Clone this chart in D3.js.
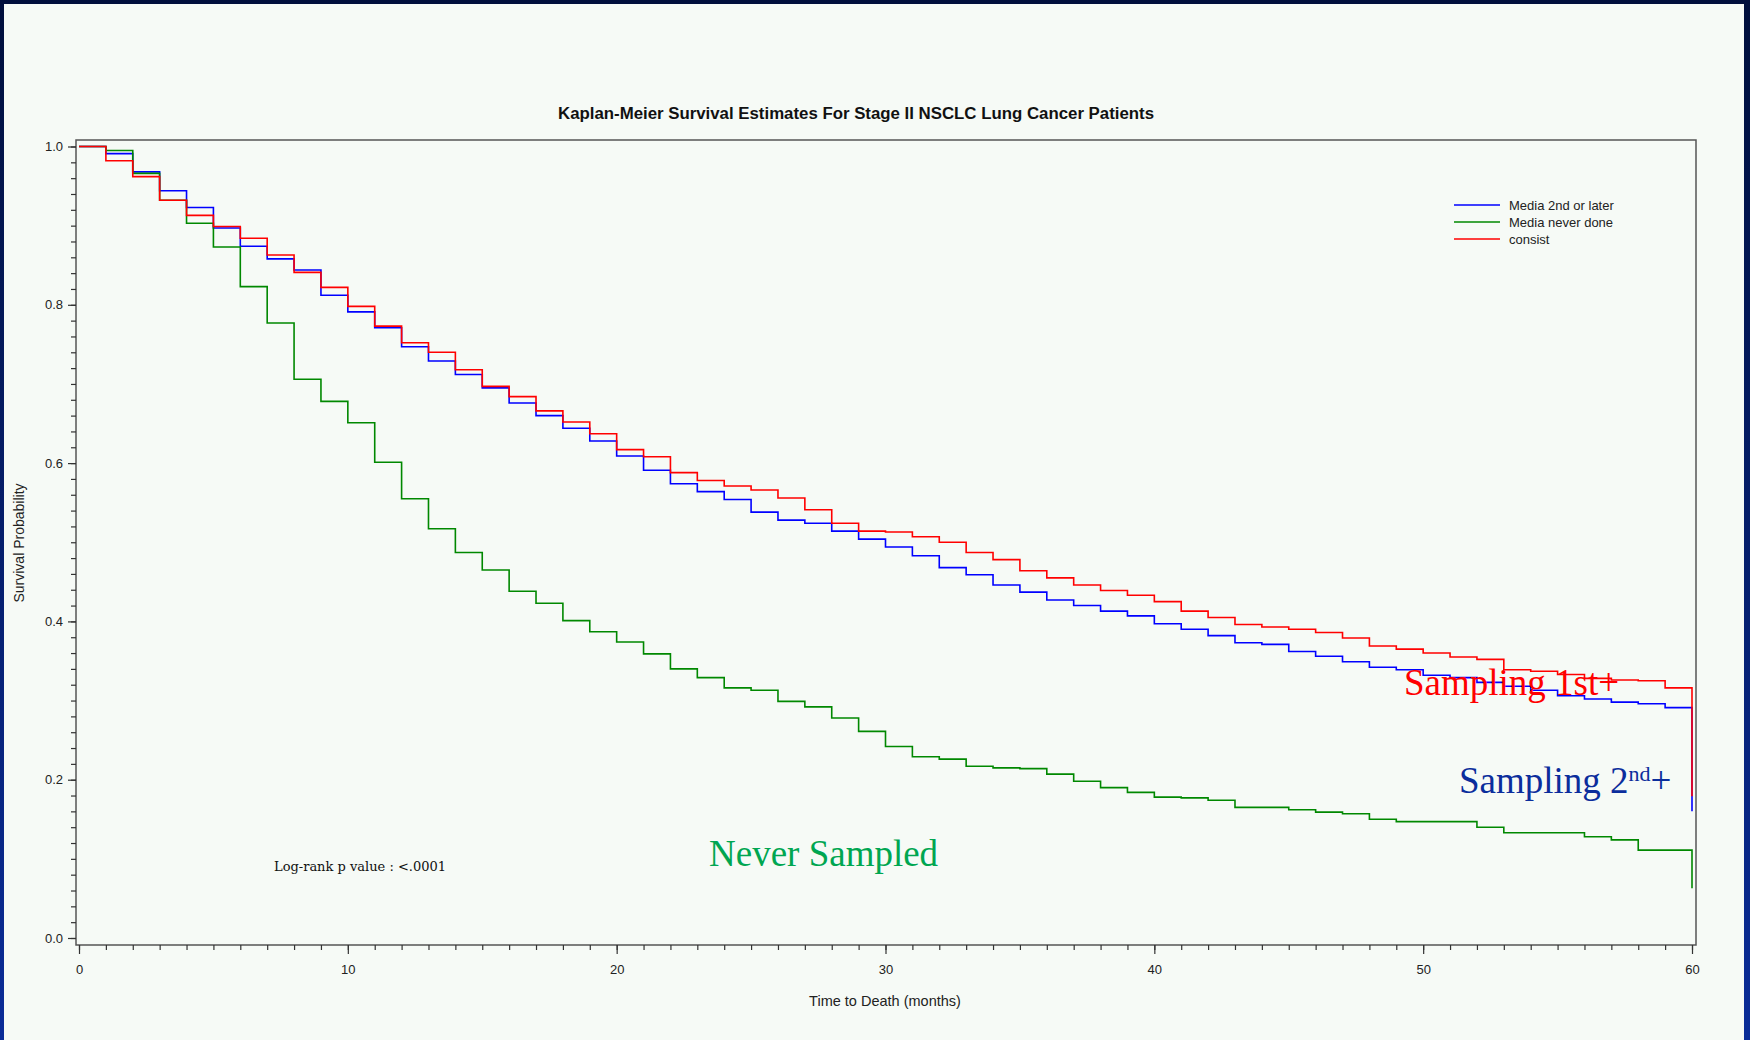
<!DOCTYPE html>
<html>
<head>
<meta charset="utf-8">
<script src="https://cdn.jsdelivr.net/npm/d3@7"></script>
<style>
  body { margin: 0; background: #001040; }
  svg { display: block; }
</style>
</head>
<body>
<svg id="chart"></svg>
<script>
const w = 1750;
const h = 1040;

// months at which the survival estimate is evaluated
const months = [0,1,2,3,4,5,6,7,8,9,10,11,12,13,14,15,16,17,18,19,20,
  21,22,23,24,25,26,27,28,29,30,31,32,33,34,35,36,37,38,39,40,
  41,42,43,44,45,46,47,48,49,50,51,52,53,54,55,56,57,58,59,60];

const media2nd = [1.000,0.991,0.968,0.944,0.923,0.897,0.874,0.858,0.844,0.812,
  0.791,0.771,0.747,0.729,0.712,0.695,0.676,0.660,0.644,0.628,
  0.609,0.591,0.574,0.564,0.554,0.538,0.528,0.524,0.514,0.504,
  0.494,0.483,0.468,0.459,0.446,0.437,0.427,0.420,0.413,0.407,
  0.397,0.390,0.382,0.373,0.371,0.362,0.356,0.349,0.342,0.339,
  0.332,0.329,0.323,0.318,0.313,0.306,0.302,0.298,0.296,0.291,0.160];

const mediaNever = [1.000,0.995,0.966,0.932,0.903,0.873,0.823,0.777,0.706,0.678,
  0.651,0.601,0.555,0.517,0.487,0.465,0.438,0.423,0.401,0.387,
  0.374,0.359,0.340,0.329,0.316,0.313,0.299,0.292,0.278,0.261,
  0.242,0.229,0.226,0.217,0.215,0.214,0.207,0.198,0.190,0.184,
  0.178,0.177,0.174,0.165,0.165,0.162,0.159,0.157,0.150,0.147,
  0.147,0.147,0.140,0.133,0.133,0.133,0.128,0.124,0.111,0.111,0.063];

const consist = [1.000,0.982,0.962,0.932,0.913,0.899,0.884,0.863,0.841,0.822,
  0.798,0.773,0.752,0.740,0.718,0.697,0.684,0.666,0.652,0.637,
  0.617,0.608,0.588,0.578,0.571,0.566,0.556,0.541,0.524,0.514,
  0.513,0.507,0.500,0.487,0.478,0.464,0.455,0.446,0.439,0.433,
  0.425,0.413,0.405,0.396,0.393,0.390,0.386,0.379,0.369,0.365,
  0.360,0.355,0.352,0.339,0.337,0.333,0.328,0.326,0.325,0.316,0.179];

const seriesNames = ["Media 2nd or later", "Media never done", "consist"];
const seriesColors = ["#0000ff", "#008800", "#ff0000"];
const seriesValues = [media2nd, mediaNever, consist];

const xTicks = [0,10,20,30,40,50,60];
const yTicks = [0.0,0.2,0.4,0.6,0.8,1.0];

const svg = d3.select("#chart")
    .attr("width", w)
    .attr("height", h);

// background + navy frame
let defs = svg.append("defs");
let grad = defs.append("linearGradient")
    .attr("id", "edge")
    .attr("x1", 0).attr("y1", 0).attr("x2", 0).attr("y2", 1);
grad.append("stop").attr("offset", "0%").attr("stop-color", "#000f3c");
grad.append("stop").attr("offset", "100%").attr("stop-color", "#0a2c98");

svg.append("rect")
   .attr("width", w).attr("height", h)
   .attr("fill", "url(#edge)");
svg.append("rect")
   .attr("x", 4).attr("y", 4)
   .attr("width", 1740).attr("height", h - 4)
   .attr("fill", "#f6faf6");

// scales
let xScale = d3.scaleLinear().domain([0, 60]).range([79, 1692]);
let yScale = d3.scaleLinear().domain([0, 1]).range([938, 146.5]);

// plot frame
svg.append("rect")
   .attr("x", 76).attr("y", 140)
   .attr("width", 1620).attr("height", 805)
   .attr("fill", "none")
   .attr("stroke", "#555")
   .attr("stroke-width", 1.5);

// y axis: minor then major ticks
svg.append("g")
   .attr("transform", "translate(76,0)")
   .call(d3.axisLeft(yScale).tickValues(d3.range(0, 1.001, 0.02)).tickSize(5).tickFormat(""))
   .call(g => g.select(".domain").remove())
   .call(g => g.selectAll("line").attr("stroke", "#333").attr("stroke-width", 1.2));

svg.append("g")
   .attr("transform", "translate(76,0)")
   .call(d3.axisLeft(yScale).tickValues(yTicks).tickSize(8).tickPadding(5).tickFormat(d3.format(".1f")))
   .call(g => g.select(".domain").remove())
   .call(g => g.selectAll("line").attr("stroke", "#333").attr("stroke-width", 1.2))
   .call(g => g.selectAll("text")
      .attr("font-family", "Liberation Sans, Arial, sans-serif")
      .attr("font-size", 13)
      .attr("fill", "#222"));

// x axis
svg.append("g")
   .attr("transform", "translate(0,945)")
   .call(d3.axisBottom(xScale).tickValues(months).tickSize(5).tickFormat(""))
   .call(g => g.select(".domain").remove())
   .call(g => g.selectAll("line").attr("stroke", "#333").attr("stroke-width", 1.2));

svg.append("g")
   .attr("transform", "translate(0,945)")
   .call(d3.axisBottom(xScale).tickValues(xTicks).tickSize(9).tickPadding(11).tickFormat(d3.format("d")))
   .call(g => g.select(".domain").remove())
   .call(g => g.selectAll("line").attr("stroke", "#333").attr("stroke-width", 1.2))
   .call(g => g.selectAll("text")
      .attr("font-family", "Liberation Sans, Arial, sans-serif")
      .attr("font-size", 13)
      .attr("fill", "#222"));

// axis titles
svg.append("text")
   .attr("x", 885).attr("y", 1006)
   .attr("text-anchor", "middle")
   .attr("font-family", "Liberation Sans, Arial, sans-serif")
   .attr("font-size", 14.5)
   .attr("fill", "#222")
   .text("Time to Death (months)");

svg.append("text")
   .attr("transform", "translate(24,543) rotate(-90)")
   .attr("text-anchor", "middle")
   .attr("font-family", "Liberation Sans, Arial, sans-serif")
   .attr("font-size", 14)
   .attr("fill", "#222")
   .text("Survival Probability");

// title
svg.append("text")
   .attr("x", 856).attr("y", 119)
   .attr("text-anchor", "middle")
   .attr("font-family", "Liberation Sans, Arial, sans-serif")
   .attr("font-weight", "bold")
   .attr("font-size", 16)
   .attr("textLength", 596)
   .attr("lengthAdjust", "spacingAndGlyphs")
   .attr("fill", "#111")
   .text("Kaplan-Meier Survival Estimates For Stage II NSCLC Lung Cancer Patients");

// step curves
let line = d3.line()
    .x(d => xScale(d[0]))
    .y(d => yScale(d[1]))
    .curve(d3.curveStepAfter);

seriesValues.forEach((vals, i) => {
    svg.append("path")
       .datum(months.map((m, j) => [m, vals[j]]))
       .attr("d", line)
       .attr("fill", "none")
       .attr("stroke", seriesColors[i])
       .attr("stroke-width", 1.6);
});

// legend
let legend = svg.append("g");
seriesNames.forEach((name, i) => {
    let ly = 205 + i * 17;
    legend.append("line")
          .attr("x1", 1454).attr("x2", 1500)
          .attr("y1", ly).attr("y2", ly)
          .attr("stroke", seriesColors[i])
          .attr("stroke-width", 1.5);
    legend.append("text")
          .attr("x", 1509).attr("y", ly + 4.5)
          .attr("font-family", "Liberation Sans, Arial, sans-serif")
          .attr("font-size", 13)
          .attr("fill", "#222")
          .text(name);
});

// p value
svg.append("text")
   .attr("x", 274).attr("y", 871)
   .attr("font-family", "DejaVu Serif, serif")
   .attr("font-size", 12.5)
   .attr("textLength", 172)
   .attr("lengthAdjust", "spacingAndGlyphs")
   .attr("fill", "#111")
   .text("Log-rank p value : <.0001");

// annotations
const serif = "Liberation Serif, Times New Roman, serif";

svg.append("text")
   .attr("x", 1404).attr("y", 695)
   .attr("font-family", serif)
   .attr("font-size", 37)
   .attr("fill", "#ff0000")
   .text("Sampling 1st+");

let s2 = svg.append("text")
   .attr("x", 1459).attr("y", 793)
   .attr("font-family", serif)
   .attr("font-size", 37)
   .attr("fill", "#0b2d9c");
s2.append("tspan").text("Sampling 2");
s2.append("tspan").attr("font-size", 22).attr("dy", -12).text("nd");
s2.append("tspan").attr("dy", 12).text("+");

svg.append("text")
   .attr("x", 709).attr("y", 866)
   .attr("font-family", serif)
   .attr("font-size", 37)
   .attr("fill", "#00a651")
   .text("Never Sampled");
</script>
</body>
</html>
